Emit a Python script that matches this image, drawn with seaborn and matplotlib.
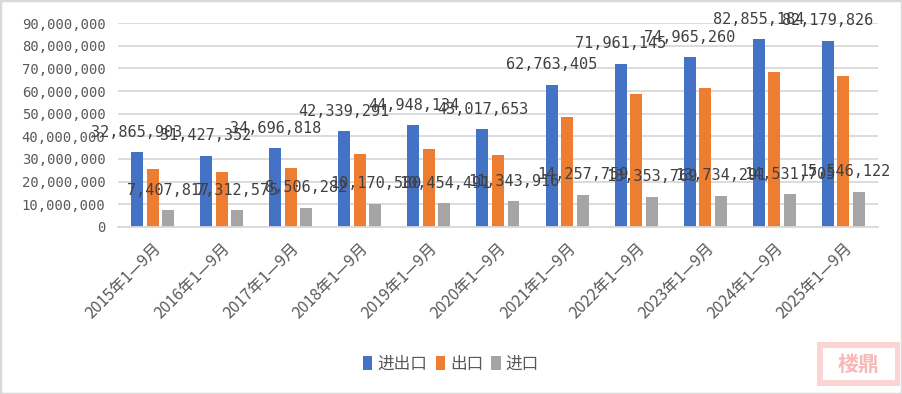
import numpy as np
import pandas as pd
import seaborn as sns
import matplotlib.pyplot as plt
from matplotlib.patches import Rectangle
from matplotlib.ticker import FuncFormatter

# data (values in the data labels)
periods = ["2015年1—9月", "2016年1—9月", "2017年1—9月", "2018年1—9月",
           "2019年1—9月", "2020年1—9月", "2021年1—9月", "2022年1—9月",
           "2023年1—9月", "2024年1—9月", "2025年1—9月"]
total = [32865903, 31427352, 34696818, 42339291, 44948134, 43017653,
         62763405, 71961145, 74965260, 82855184, 82179826]
export = [25458086, 24114777, 26190536, 32168711, 34493643, 31673737,
          48505646, 58607376, 61230969, 68323479, 66633704]
imports = [7407817, 7312575, 8506282, 10170580, 10454491, 11343916,
           14257759, 13353769, 13734291, 14531705, 15546122]
series = ["进出口", "出口", "进口"]
colors = ["#4472C4", "#ED7D31", "#A5A5A5"]

df = pd.DataFrame({
    "period": periods * 3,
    "series": np.repeat(series, len(periods)),
    "value": total + export + imports,
})

sns.set_theme(style="white")
plt.rcParams['font.family'] = ['Noto Sans CJK SC', 'DejaVu Sans']

fig = plt.figure(figsize=(9.02, 3.94), dpi=100)
ax = fig.add_axes([0.1308, 0.4239, 0.8426, 0.5177])

sns.barplot(data=df, x="period", y="value", hue="series", palette=colors,
            saturation=1, width=0.674, gap=0.23, linewidth=0, ax=ax)

# labels only on total and import bars
ax.bar_label(ax.containers[0], labels=[f"{v:,}" for v in total], padding=9,
             fontsize=11, family='DejaVu Sans Mono', color='#404040')
imp_txt = ax.bar_label(ax.containers[2], labels=[f"{v:,}" for v in imports], padding=9,
                       fontsize=11, family='DejaVu Sans Mono', color='#404040')
# last label is pushed back inside the plot area, like the original
imp_txt[-1].xyann = (-10, 9)

ax.set_ylim(0, 90000000)
ax.set_yticks(np.arange(0, 90000001, 10000000))
ax.yaxis.set_major_formatter(FuncFormatter(lambda v, p: f"{int(v):,}"))
ax.yaxis.grid(True, color='#d9d9d9', lw=1.3)
ax.set_axisbelow(True)
for s in ['top', 'right', 'left']:
    ax.spines[s].set_visible(False)
ax.spines['bottom'].set_color('#d9d9d9')
ax.spines['bottom'].set_linewidth(1.3)
ax.tick_params(length=0)
ax.tick_params(axis='y', pad=9, labelcolor='#595959')
ax.tick_params(axis='x', pad=9, labelcolor='#595959')
for t in ax.get_yticklabels():
    t.set_family('DejaVu Sans Mono')
    t.set_fontsize(10)
for t in ax.get_xticklabels():
    t.set_rotation(45)
    t.set_ha('right')
    t.set_rotation_mode('anchor')
    t.set_fontsize(11.5)
ax.set_xlabel("")
ax.set_ylabel("")

handles, labels = ax.get_legend_handles_labels()
ax.get_legend().remove()
fig.legend(handles, labels, loc='center', bbox_to_anchor=(0.5, 0.076), ncol=3,
           frameon=False, fontsize=12, handlelength=0.55, handleheight=0.9,
           handletextpad=0.3, columnspacing=0.5, labelcolor='#595959')

# outer frame
fig.patches.append(Rectangle((0, 0), 1, 1, transform=fig.transFigure, fill=False,
                             edgecolor='#d9d9d9', lw=2.5))
# seal watermark bottom right
fig.patches.append(Rectangle((0.906, 0.02), 0.092, 0.112, transform=fig.transFigure,
                             facecolor='#fcd4d4', edgecolor='none'))
fig.patches.append(Rectangle((0.912, 0.035), 0.08, 0.082, transform=fig.transFigure,
                             facecolor='white', edgecolor='none'))
fig.text(0.952, 0.076, "楼鼎", ha='center', va='center', fontsize=15,
         color='#f7b8b8', fontweight='bold')

fig.savefig("out.png", dpi=100)
